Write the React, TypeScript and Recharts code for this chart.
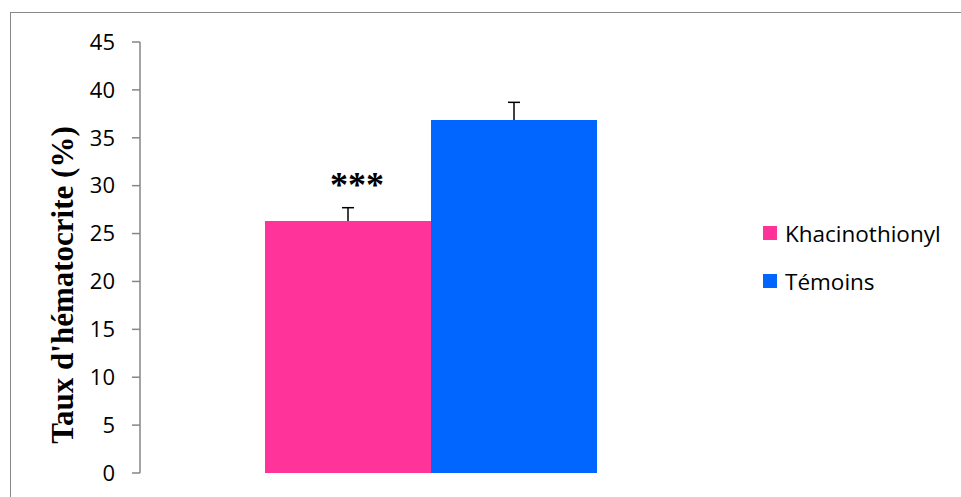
import { BarChart, Bar, XAxis, YAxis, Rectangle } from 'recharts';

const categories = [''];
const seriesNames = ['Khacinothionyl', 'Témoins'];
const seriesKeys = ['khacino', 'temoins'];
const seriesValues = [26.3, 36.85];
const seriesErrors = [1.4, 1.85];
const seriesSig = ['***', ''];
const seriesColors = ['#FF3399', '#0066FF'];
const yTicks = [0, 5, 10, 15, 20, 25, 30, 35, 40, 45];

const chartData = categories.map((name) => {
  const row: any = { name };
  seriesKeys.forEach((k, i) => {
    row[k] = seriesValues[i];
  });
  return row;
});

const tickFont = '"Open Sans", sans-serif';

// bar + plus-only error bar (Excel style), error length taken from the bar's own scale
function BarWithError(props: any) {
  const { x, y, width, height, value, fill, err, sig } = props;
  const ppu = height / value;
  const cx = x + width / 2;
  const top = y - err * ppu;
  return (
    <g>
      <Rectangle x={x} y={y} width={width} height={height} fill={fill} />
      <line x1={cx} y1={y} x2={cx} y2={top} stroke="#000" strokeWidth={1.5} />
      <line x1={cx - 6} y1={top} x2={cx + 6} y2={top} stroke="#000" strokeWidth={1.5} />
      {sig && (
        <text
          x={cx + 9}
          y={top - 11}
          textAnchor="middle"
          fontFamily='"Liberation Serif", serif'
          fontWeight="bold"
          fontSize={36}
          fill="#000"
        >
          {sig}
        </text>
      )}
    </g>
  );
}

const YLabel = () => (
  <text
    x={62}
    y={285}
    transform="rotate(-90, 62, 285)"
    textAnchor="middle"
    dominantBaseline="central"
    fontFamily='"Liberation Serif", serif'
    fontWeight="bold"
    fontSize={31}
    fill="#000"
  >
    Taux d'hématocrite (%)
  </text>
);

export default function App() {
  return (
    <div style={{ position: 'absolute', left: 0, top: 0, width: 961, height: 497, background: '#fff', overflow: 'hidden' }}>
      <div
        style={{
          position: 'absolute',
          left: 10,
          top: 12,
          right: -10,
          bottom: -10,
          borderTop: '1.5px solid #888',
          borderLeft: '1.5px solid #888',
        }}
      />
      <BarChart
        width={961}
        height={497}
        data={chartData}
        margin={{ top: 42, right: 240, bottom: 24, left: 0 }}
        barGap={0}
        barSize={166}
        style={{ position: 'absolute', left: 0, top: 0 }}
      >
        <XAxis dataKey="name" hide />
        <YAxis
          width={140}
          domain={[0, 45]}
          ticks={yTicks}
          interval={0}
          axisLine={{ stroke: '#868686', strokeWidth: 1.5 }}
          tickLine={{ stroke: '#868686', strokeWidth: 1.5 }}
          tickSize={8}
          tickMargin={17}
          tick={{ fontSize: 22, fill: '#000', fontFamily: tickFont }}
          label={<YLabel />}
        />
        {seriesKeys.map((k, i) => (
          <Bar
            key={k}
            dataKey={k}
            name={seriesNames[i]}
            fill={seriesColors[i]}
            isAnimationActive={false}
            shape={(p: any) => <BarWithError {...p} fill={seriesColors[i]} err={seriesErrors[i]} sig={seriesSig[i]} />}
          />
        ))}
      </BarChart>
      <div style={{ position: 'absolute', left: 763, top: 218, fontFamily: tickFont, fontSize: 22.5, color: '#000' }}>
        {seriesNames.map((n, i) => (
          <div key={n} style={{ display: 'flex', alignItems: 'center', height: 30, marginBottom: 18 }}>
            <span style={{ display: 'inline-block', width: 14, height: 14, background: seriesColors[i], marginRight: 8 }} />
            <span>{n}</span>
          </div>
        ))}
      </div>
    </div>
  );
}
